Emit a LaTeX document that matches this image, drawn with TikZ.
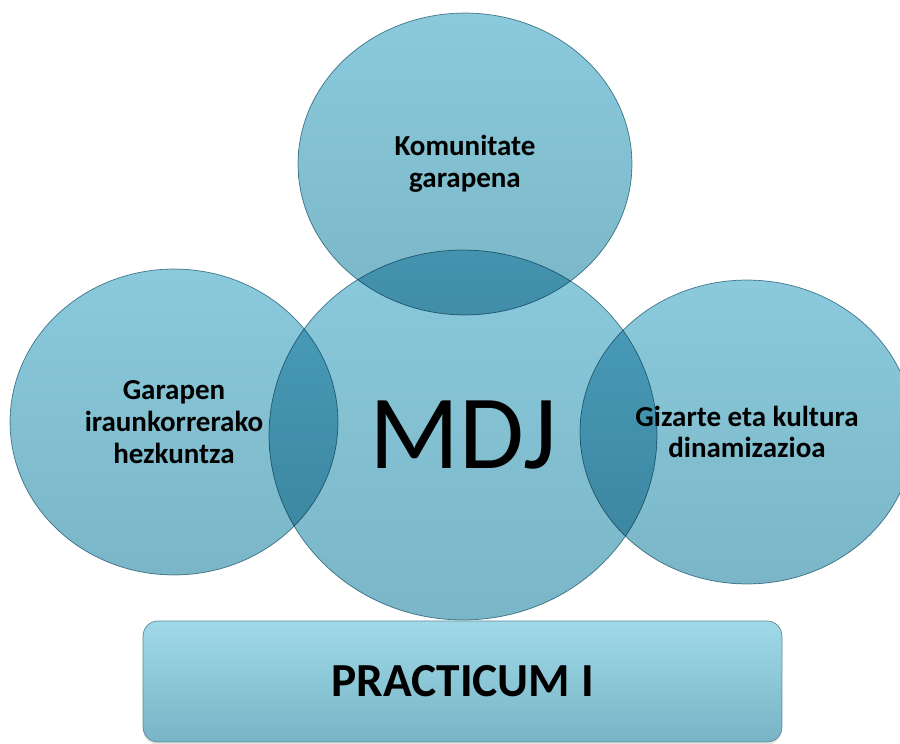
\documentclass[tikz,border=0pt]{standalone}
\usepackage{fontspec}
\setmainfont{Carlito}
\usetikzlibrary{shapes.geometric,shadows}

\definecolor{bubtop}{RGB}{138,202,220}
\definecolor{bubbot}{RGB}{122,182,199}
\definecolor{bubline}{RGB}{92,138,152}
\definecolor{boxtop}{RGB}{160,218,232}
\definecolor{boxbot}{RGB}{120,180,198}

\begin{document}
\begin{tikzpicture}[x=0.02cm,y=-0.02cm,
    bubble/.style={ellipse,draw=bubline,line width=0.4pt,top color=bubtop,bottom color=bubbot,
      inner sep=0pt,align=center,font=\bfseries\fontsize{16.5}{18}\selectfont},
    practbox/.style={rectangle,rounded corners=8.5pt,draw=bubline,line width=0.4pt,
      top color=boxtop,bottom color=boxbot,minimum width=12.78cm,minimum height=2.42cm,
      font=\bfseries\fontsize{27}{30}\selectfont,
      drop shadow={shadow xshift=0pt,shadow yshift=-1.5pt,opacity=0.2}}]
\useasboundingbox (0,0) rectangle (900,744);
\fill[white] (0,0) rectangle (900,744);

\begin{scope}[blend mode=multiply]
\node[bubble,minimum width=6.68cm,minimum height=6.04cm] (komun) at (465,164)
      {Komunitate\\garapena};
\node[bubble,minimum width=6.56cm,minimum height=6.12cm] (garap) at (174,422)
      {Garapen\\iraunkorrerako\\hezkuntza};
\node[bubble,minimum width=6.68cm,minimum height=6.08cm] (gizar) at (747,432)
      {Gizarte eta kultura\\dinamizazioa};
\node[bubble,minimum width=7.76cm,minimum height=7.40cm,font=\fontsize{60}{60}\selectfont] (mdj) at (463,435)
      {MDJ};
\end{scope}

\node[practbox] (prac) at (462.5,681.5) {PRACTICUM I};
\end{tikzpicture}
\end{document}
